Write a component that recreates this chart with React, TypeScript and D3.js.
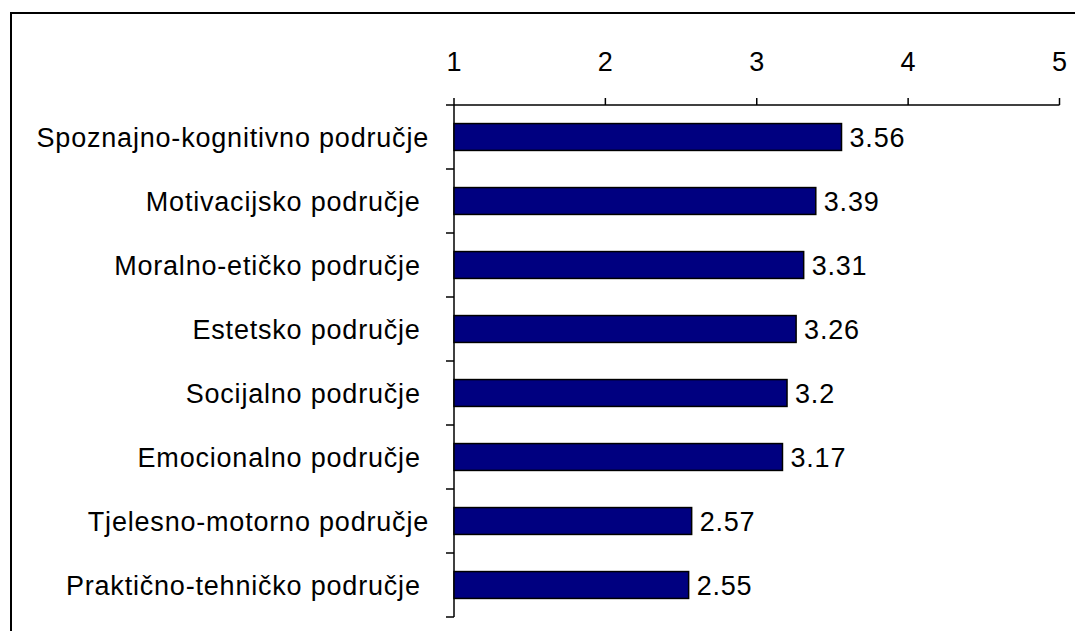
import React from 'react';
import * as d3 from 'd3';

const categories = [
  'Spoznajno-kognitivno područje',
  'Motivacijsko područje ',
  'Moralno-etičko područje ',
  'Estetsko područje ',
  'Socijalno područje ',
  'Emocionalno područje ',
  'Tjelesno-motorno područje',
  'Praktično-tehničko područje ',
];
const values = [3.56, 3.39, 3.31, 3.26, 3.2, 3.17, 2.57, 2.55];
const xTicks = [1, 2, 3, 4, 5];

const FONT = '"Liberation Sans", Arial, sans-serif';

export default function App() {
  const left = 454, right = 1059.5, top = 105, bottom = 617;
  const fs = 27;
  const ls = 0.8;

  const x = d3.scaleLinear().domain([1, 5]).range([left, right]);
  const y = d3.scaleBand().domain(categories).range([top, bottom]).paddingInner(0.58).paddingOuter(0.29);
  const bounds = d3.range(categories.length + 1).map(i => top + (i * (bottom - top)) / categories.length);

  return (
    <div style={{ position: 'fixed', left: 0, top: 0 }}>
      <svg width={1075} height={631} style={{ display: 'block', background: '#fff' }} fontFamily={FONT}>
        {/* outer frame, runs off the right and bottom edge */}
        <rect x={11} y={13} width={1100} height={660} fill="none" stroke="#000" strokeWidth={2} />

        {/* x axis on top */}
        <line x1={left} x2={right} y1={top} y2={top} stroke="#000" strokeWidth={1.5} />
        {xTicks.map(t => (
          <g key={t}>
            <line x1={x(t)} x2={x(t)} y1={top - 7} y2={top} stroke="#000" strokeWidth={1.5} />
            <text x={x(t)} y={71} textAnchor="middle" fontSize={fs} fill="#000">{t}</text>
          </g>
        ))}

        {/* y axis */}
        <line x1={left} x2={left} y1={top} y2={bottom} stroke="#000" strokeWidth={1.5} />
        {bounds.map((b, i) => (
          <line key={i} x1={left - 8} x2={left} y1={b} y2={b} stroke="#000" strokeWidth={1.5} />
        ))}

        {categories.map((c, i) => {
          const yc = (y(c) as number) + y.bandwidth() / 2;
          return (
            <g key={c}>
              <rect x={x(1)} y={y(c)} width={x(values[i]) - x(1)} height={y.bandwidth()}
                fill="#000080" stroke="#000" strokeWidth={1.5} />
              <text x={429} y={yc} dy="0.36em" textAnchor="end" fontSize={fs} fill="#000"
                letterSpacing={ls} style={{ whiteSpace: 'pre' }}>{c}</text>
              <text x={x(values[i]) + 8} y={yc} dy="0.36em" fontSize={fs} fill="#000"
                letterSpacing={ls}>{values[i]}</text>
            </g>
          );
        })}
      </svg>
    </div>
  );
}
